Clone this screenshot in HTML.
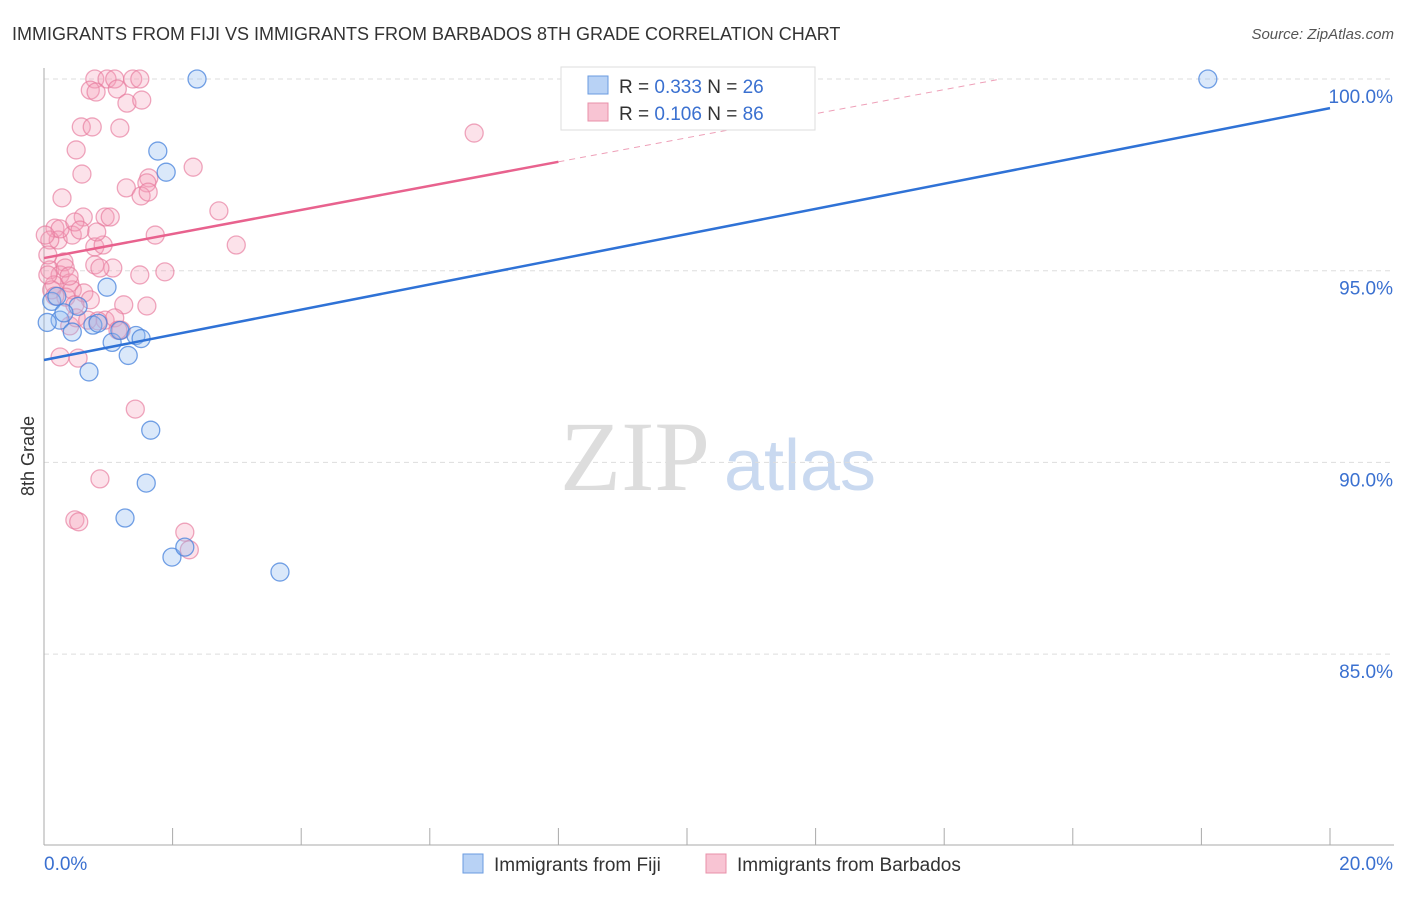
<!DOCTYPE html>
<html><head><meta charset="utf-8"><style>
body{margin:0;background:#fff;font-family:"Liberation Sans",sans-serif}
</style></head><body>
<svg width="1406" height="892" xmlns="http://www.w3.org/2000/svg" font-family="Liberation Sans, sans-serif">
<text x="12" y="40" font-size="18" fill="#333">IMMIGRANTS FROM FIJI VS IMMIGRANTS FROM BARBADOS 8TH GRADE CORRELATION CHART</text>
<text x="1394" y="39" font-size="15" fill="#555" text-anchor="end" font-style="italic">Source: ZipAtlas.com</text>
<g>
<text x="635" y="490" font-size="100" fill="#ddd" font-family="Liberation Serif, serif" text-anchor="middle">ZIP</text>
<text x="800" y="490" font-size="72" fill="#c9d9f0" text-anchor="middle">atlas</text>
</g>
<g id="grid"></g>
<g id="axes"></g>
<g id="marks"></g>
<text x="34" y="456" font-size="18" fill="#333" transform="rotate(-90 34 456)" text-anchor="middle">8th Grade</text>
<g>
<rect x="561" y="67" width="254" height="63" fill="#fff" stroke="#ddd"/>
<rect x="588" y="76" width="20" height="18" fill="#b8d2f5" stroke="#6a9be0"/>
<rect x="588" y="103" width="20" height="18" fill="#f8c4d3" stroke="#e890aa"/>
<text x="619" y="93" font-size="19" fill="#333">R = <tspan fill="#3a70d0">0.333</tspan>   N = <tspan fill="#3a70d0">26</tspan></text>
<text x="619" y="120" font-size="19" fill="#333">R = <tspan fill="#3a70d0">0.106</tspan>   N = <tspan fill="#3a70d0">86</tspan></text>
</g>
<g>
<rect x="463" y="854" width="20" height="19" fill="#b8d2f5" stroke="#6a9be0"/>
<text x="494" y="871" font-size="19" fill="#333">Immigrants from Fiji</text>
<rect x="706" y="854" width="20" height="19" fill="#f8c4d3" stroke="#e890aa"/>
<text x="737" y="871" font-size="19" fill="#333">Immigrants from Barbados</text>
</g>
</svg>
<script>
const yTicks=[100,95,90,85];
const yTickLabels=["100.0%","95.0%","90.0%","85.0%"];
const xTickLabels=["0.0%","20.0%"];
const fijiX=[2.38,1.77,1.90,0.98,0.53,0.25,0.44,0.76,0.84,1.06,1.18,1.43,1.51,1.31,0.70,1.66,1.59,1.26,1.99,2.19,3.67,18.10,0.05,0.12,0.20,0.31];
const fijiY=[100,98.12,97.57,94.57,94.07,93.71,93.40,93.58,93.63,93.13,93.44,93.31,93.23,92.79,92.36,90.84,89.46,88.55,87.53,87.79,87.14,100,93.65,94.2,94.33,93.9];
const barbX=[0.79,0.98,1.10,1.38,1.49,1.14,0.72,0.81,1.29,1.52,0.58,0.75,1.18,0.50,0.59,1.63,1.60,1.28,1.51,2.32,2.72,0.28,0.61,0.95,1.03,0.17,0.22,0.44,0.79,0.92,1.73,2.99,0.31,0.79,1.07,1.49,1.88,0.09,0.25,0.40,0.16,0.44,0.62,1.24,1.60,0.95,1.10,0.40,0.50,0.68,0.25,0.53,1.42,0.87,0.48,0.54,2.19,2.26,6.69,0.09,0.06,0.12,0.34,0.84,1.20,0.87,0.25,0.48,1.62,0.56,0.82,0.02,0.06,0.33,0.39,0.17,0.72,0.48,1.15];
const barbY=[100,100,100,100,100,99.74,99.71,99.66,99.37,99.45,98.75,98.75,98.72,98.15,97.52,97.42,97.29,97.16,96.95,97.70,96.56,96.90,96.40,96.40,96.40,96.11,95.80,95.93,95.62,95.67,95.93,95.67,95.23,95.15,95.07,94.89,94.97,95.02,94.89,94.68,94.63,94.50,94.42,94.11,94.08,93.71,93.77,93.56,93.77,93.71,92.75,92.72,91.39,89.57,88.50,88.45,88.18,87.72,98.59,95.80,95.41,94.50,94.31,93.69,93.45,95.07,96.09,96.27,97.05,96.06,96.01,95.93,94.89,95.07,94.86,94.34,94.24,94.11,93.45];
const fijiTrend=[92.67,99.24];
const barbTrend=[95.33,97.84];
const barbSolidEnd=8;
const NS="http://www.w3.org/2000/svg";
const xs=v=>44+v/20*1286;
const ys=v=>79+(100-v)*38.34;
function mk(t,a,p){const e=document.createElementNS(NS,t);for(const k in a)e.setAttribute(k,a[k]);p.appendChild(e);return e;}
const grid=document.getElementById('grid'),axes=document.getElementById('axes'),marks=document.getElementById('marks');
yTicks.forEach((t,i)=>{
 const l=mk('line',{x1:44,x2:1394,y1:ys(t),y2:ys(t),stroke:'#ddd','stroke-dasharray':'5,4'},grid);
 
 
 const tx=mk('text',{x:1393,y:ys(t)+24,'font-size':19,fill:'#3a70d0','text-anchor':'end'},axes);
 tx.textContent=yTickLabels[i];
 
 
});
const ax=mk('line',{x1:44,x2:44,y1:68,y2:845,stroke:'#aaa'},axes);


const bx=mk('line',{x1:44,x2:1394,y1:845,y2:845,stroke:'#aaa'},axes);


for(let i=0;i<=10;i++){const t=mk('line',{x1:xs(i*2),x2:xs(i*2),y1:828,y2:845,stroke:'#aaa'},axes);
 
 }
const xl0=mk('text',{x:44,y:870,'font-size':19,fill:'#3a70d0'},axes);xl0.textContent=xTickLabels[0];


const xl1=mk('text',{x:1393,y:870,'font-size':19,fill:'#3a70d0','text-anchor':'end'},axes);xl1.textContent=xTickLabels[1];


barbX.forEach((x,i)=>{const c=mk('circle',{cx:xs(x),cy:ys(barbY[i]),r:9,fill:'rgba(245,160,185,0.3)',stroke:'rgba(230,120,155,0.65)','stroke-width':1.3},marks);
 
 });
fijiX.forEach((x,i)=>{const c=mk('circle',{cx:xs(x),cy:ys(fijiY[i]),r:9,fill:'rgba(150,190,240,0.35)',stroke:'rgba(70,130,220,0.75)','stroke-width':1.3},marks);
 
 });
const slope=(barbTrend[1]-barbTrend[0])/barbSolidEnd;
const xEnd=(100-barbTrend[0])/slope;
const d=mk('line',{x1:xs(barbSolidEnd),y1:ys(barbTrend[1]),x2:xs(xEnd),y2:ys(100),stroke:'#eea0b8','stroke-dasharray':'6,5','stroke-width':1},marks);


const bl=mk('line',{x1:xs(0),y1:ys(barbTrend[0]),x2:xs(barbSolidEnd),y2:ys(barbTrend[1]),stroke:'#e8628e','stroke-width':2.5},marks);


const fl=mk('line',{x1:xs(0),y1:ys(fijiTrend[0]),x2:xs(20),y2:ys(fijiTrend[1]),stroke:'#2f72d6','stroke-width':2.5},marks);


</script>
</body></html>
